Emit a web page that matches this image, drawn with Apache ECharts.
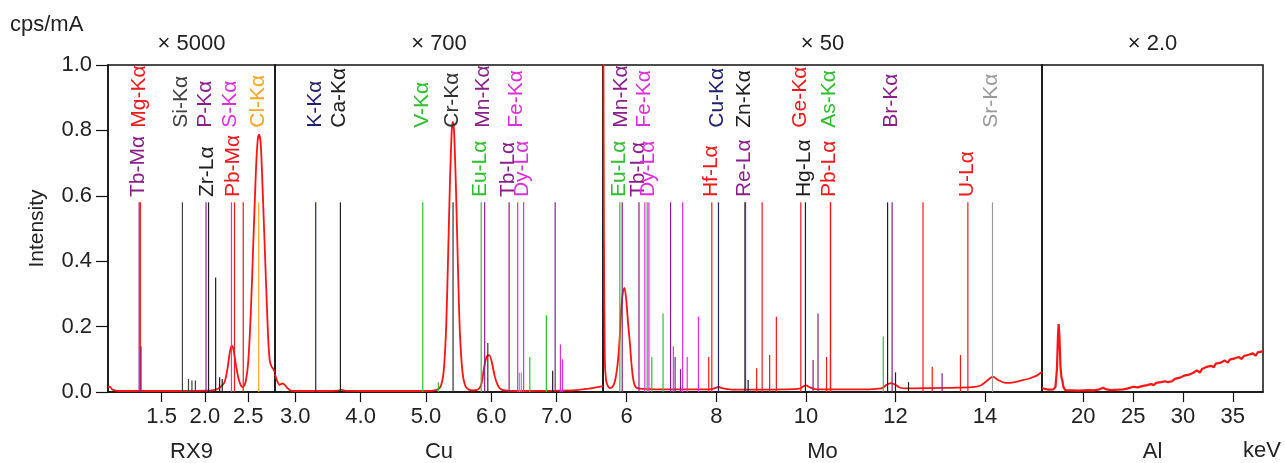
<!DOCTYPE html>
<html>
<head>
<meta charset="utf-8">
<style>
  html, body { margin: 0; padding: 0; background: #fff; }
  #chart { width: 1285px; height: 463px; }
</style>
<script src="https://cdn.jsdelivr.net/npm/echarts@6/dist/echarts.min.js"></script>
</head>
<body>
<div id="chart"></div>
<script>
// panels: target name, scale factor, energy range (keV)
const panelNames = ["RX9", "Cu", "Mo", "Al"];
const panelFactors = ["× 5000", "× 700", "× 50", "× 2.0"];
const panelRanges = [[0.88, 2.81], [2.69, 7.71], [5.47, 15.27], [15.85, 38.03]];

const yTicks = [0, 0.2, 0.4, 0.6, 0.8, 1.0];
const tickRX9 = [1.5, 2.0, 2.5];
const tickCu = [3.0, 4.0, 5.0, 6.0, 7.0];
const tickMo = [6, 8, 10, 12, 14];
const tickAl = [20, 25, 30, 35];

// spectra [keV, intensity]
const specRX9 = [
  [0.88, 0.014], [0.9, 0.016], [0.93, 0.008], [0.97, 0.004], [1.0, 0.003], [1.2, 0.003], [1.5, 0.003],
  [1.8, 0.003], [2.0, 0.004], [2.1, 0.006], [2.15, 0.01], [2.2, 0.02], [2.23, 0.032], [2.26, 0.07],
  [2.29, 0.125], [2.31, 0.142], [2.33, 0.13], [2.36, 0.08], [2.39, 0.04], [2.42, 0.018], [2.44, 0.015],
  [2.47, 0.03], [2.5, 0.09], [2.53, 0.24], [2.56, 0.46], [2.59, 0.68], [2.61, 0.77], [2.626, 0.787],
  [2.645, 0.76], [2.67, 0.6], [2.7, 0.38], [2.73, 0.17], [2.75, 0.095], [2.77, 0.078], [2.79, 0.07],
  [2.81, 0.06]
];
const specCu = [
  [2.69, 0.055], [2.72, 0.035], [2.76, 0.022], [2.8, 0.026], [2.84, 0.022], [2.88, 0.012], [2.92, 0.005],
  [3.0, 0.003], [3.5, 0.003], [3.65, 0.004], [3.7, 0.007], [3.75, 0.004], [4.0, 0.003], [4.5, 0.003],
  [5.0, 0.003], [5.15, 0.006], [5.22, 0.015], [5.27, 0.06], [5.31, 0.2], [5.34, 0.42], [5.37, 0.66],
  [5.395, 0.8], [5.41, 0.826], [5.43, 0.8], [5.46, 0.62], [5.49, 0.38], [5.52, 0.18], [5.56, 0.06],
  [5.6, 0.02], [5.65, 0.008], [5.72, 0.005], [5.8, 0.008], [5.85, 0.025], [5.89, 0.075], [5.93, 0.108],
  [5.97, 0.113], [6.01, 0.09], [6.05, 0.05], [6.1, 0.02], [6.15, 0.008], [6.25, 0.004], [6.5, 0.003],
  [7.0, 0.004], [7.3, 0.006], [7.5, 0.01], [7.6, 0.014], [7.71, 0.018]
];
const specMo = [
  [5.47, 1.6], [5.49, 0.5], [5.51, 0.1], [5.54, 0.035], [5.58, 0.018], [5.62, 0.012], [5.68, 0.015],
  [5.74, 0.035], [5.8, 0.09], [5.84, 0.16], [5.88, 0.26], [5.92, 0.31], [5.95, 0.318], [5.99, 0.28],
  [6.03, 0.21], [6.07, 0.15], [6.11, 0.08], [6.15, 0.035], [6.2, 0.015], [6.3, 0.01], [6.5, 0.009],
  [7.0, 0.008], [7.5, 0.008], [7.9, 0.009], [8.0, 0.013], [8.05, 0.016], [8.12, 0.012], [8.3, 0.008],
  [8.6, 0.007], [9.0, 0.007], [9.5, 0.008], [9.85, 0.01], [9.95, 0.018], [10.0, 0.02], [10.08, 0.015],
  [10.2, 0.009], [10.6, 0.008], [11.0, 0.008], [11.5, 0.009], [11.7, 0.012], [11.8, 0.022], [11.9, 0.027],
  [12.0, 0.022], [12.1, 0.013], [12.3, 0.011], [12.8, 0.012], [13.3, 0.013], [13.7, 0.015], [13.9, 0.02],
  [14.05, 0.035], [14.17, 0.047], [14.3, 0.036], [14.45, 0.028], [14.6, 0.029], [14.8, 0.035],
  [15.0, 0.042], [15.15, 0.05], [15.27, 0.062]
];
const specAl = [
  [15.85, 0.012], [16.0, 0.008], [16.5, 0.007], [17.0, 0.008], [17.2, 0.015], [17.35, 0.07], [17.45, 0.17],
  [17.52, 0.208], [17.6, 0.17], [17.7, 0.08], [17.8, 0.045], [17.9, 0.035], [18.0, 0.015], [18.2, 0.006],
  [18.5, 0.005], [19.0, 0.005], [19.5, 0.004], [20.0, 0.005], [20.5, 0.006], [21.0, 0.005], [21.5, 0.007],
  [22.0, 0.013], [22.3, 0.008], [22.8, 0.006], [23.5, 0.007], [24.0, 0.008], [24.5, 0.011],
  [25.0, 0.016], [25.2, 0.011], [25.45, 0.014], [25.6, 0.012], [25.9, 0.018], [26.1, 0.015],
  [26.4, 0.021], [26.6, 0.017], [26.8, 0.024], [27.1, 0.021], [27.3, 0.028], [27.5, 0.024],
  [27.8, 0.03], [28.0, 0.027], [28.2, 0.033], [28.5, 0.03], [28.7, 0.036], [28.9, 0.033],
  [29.2, 0.04], [29.4, 0.036], [29.7, 0.044], [29.9, 0.041], [30.1, 0.05], [30.3, 0.044],
  [30.6, 0.053], [30.8, 0.048], [31.0, 0.058], [31.2, 0.053], [31.4, 0.066], [31.7, 0.059],
  [31.9, 0.07], [32.1, 0.066], [32.4, 0.077], [32.6, 0.071], [32.8, 0.08], [33.1, 0.076],
  [33.3, 0.087], [33.5, 0.081], [33.8, 0.09], [34.0, 0.087], [34.2, 0.096], [34.5, 0.09],
  [34.7, 0.099], [34.9, 0.095], [35.2, 0.103], [35.4, 0.097], [35.6, 0.107], [35.9, 0.101],
  [36.1, 0.11], [36.3, 0.105], [36.6, 0.114], [36.8, 0.108], [37.0, 0.118], [37.3, 0.111],
  [37.5, 0.121], [37.7, 0.115], [38.0, 0.124]
];

// element line markers [element, keV, relative height]
const linesRX9 = [
  ["Tb", 1.240, 0.58], ["Mg", 1.254, 0.58], ["Tb", 1.262, 0.14],
  ["Si", 1.740, 0.58], ["Si", 1.81, 0.04], ["Si", 1.85, 0.035], ["Si", 1.89, 0.035],
  ["P", 2.013, 0.58], ["Zr", 2.042, 0.58], ["Zr", 2.124, 0.35], ["Zr", 2.17, 0.045], ["Zr", 2.2, 0.04],
  ["S", 2.307, 0.58], ["Pb", 2.342, 0.58], ["Pb", 2.443, 0.58], ["Cl", 2.622, 0.58]
];
const linesCu = [
  ["K", 3.313, 0.58], ["Ca", 3.691, 0.58], ["V", 4.952, 0.58], ["V", 5.19, 0.03],
  ["Cr", 5.415, 0.58], ["Eu", 5.846, 0.58], ["Mn", 5.899, 0.58], ["Cr", 5.947, 0.15],
  ["Tb", 6.273, 0.58], ["Fe", 6.404, 0.58], ["Sr", 6.43, 0.06], ["Sr", 6.46, 0.06], ["Dy", 6.495, 0.58],
  ["Eu", 6.59, 0.107], ["Eu", 6.843, 0.235], ["Hg", 6.94, 0.065], ["Tb", 6.978, 0.58],
  ["Fe", 7.058, 0.145], ["Fe", 7.09, 0.1]
];
const linesMo = [
  ["Eu", 5.846, 0.58], ["Mn", 5.899, 0.58], ["Tb", 6.273, 0.58], ["Fe", 6.404, 0.58], ["Eu", 6.457, 0.58],
  ["Dy", 6.495, 0.58], ["Eu", 6.56, 0.107], ["Eu", 6.81, 0.24], ["Tb", 6.978, 0.58], ["Fe", 7.04, 0.14],
  ["Tb", 7.08, 0.107], ["Re", 7.2, 0.07], ["Dy", 7.248, 0.58], ["Dy", 7.35, 0.107], ["Dy", 7.6, 0.23],
  ["Hf", 7.83, 0.107], ["Hf", 7.899, 0.58], ["Cu", 8.048, 0.58], ["Zn", 8.639, 0.58], ["Re", 8.652, 0.58],
  ["Zn", 8.71, 0.037], ["Hf", 8.9, 0.073], ["Hf", 9.023, 0.58], ["Hf", 9.19, 0.113], ["Hf", 9.34, 0.23],
  ["Ge", 9.886, 0.58], ["Hg", 9.989, 0.58], ["Re", 10.16, 0.098], ["Re", 10.27, 0.24], ["Ge", 10.46, 0.107],
  ["As", 10.544, 0.58], ["Pb", 10.551, 0.58], ["As", 11.726, 0.17], ["Hg", 11.823, 0.58],
  ["Br", 11.924, 0.58], ["Hg", 12.0, 0.06], ["Hg", 12.29, 0.03], ["Pb", 12.614, 0.58],
  ["Pb", 12.82, 0.077], ["Br", 13.04, 0.057], ["U", 13.45, 0.113], ["U", 13.615, 0.58], ["Sr", 14.165, 0.58]
];
const linesAl = [];

// line labels [text, keV]
const labelsRX9 = [
  ["Tb-Mα", 1.240], ["Mg-Kα", 1.254], ["Si-Kα", 1.740], ["Zr-Lα", 2.042], ["P-Kα", 2.013],
  ["Pb-Mα", 2.342], ["S-Kα", 2.307], ["Cl-Kα", 2.622]
];
const labelsCu = [
  ["K-Kα", 3.313], ["Ca-Kα", 3.691], ["V-Kα", 4.952], ["Cr-Kα", 5.415], ["Mn-Kα", 5.899],
  ["Eu-Lα", 5.846], ["Tb-Lα", 6.273], ["Dy-Lα", 6.495], ["Fe-Kα", 6.404]
];
const labelsMo = [
  ["Mn-Kα", 5.899], ["Fe-Kα", 6.404], ["Eu-Lα", 5.846], ["Tb-Lα", 6.273], ["Dy-Lα", 6.495],
  ["Hf-Lα", 7.899], ["Cu-Kα", 8.048], ["Re-Lα", 8.652], ["Zn-Kα", 8.639], ["Hg-Lα", 9.989],
  ["Ge-Kα", 9.886], ["Pb-Lα", 10.551], ["As-Kα", 10.544], ["Br-Kα", 11.924], ["U-Lα", 13.615],
  ["Sr-Kα", 14.165]
];
const labelsAl = [];

const RED = "#f01a1a";
const PURPLE = "#8a1f8a";
const MAGENTA = "#dc2fdc";
const GREEN = "#2fbf2f";
const NAVY = "#22226e";
const DARK = "#1e1e1e";
const elementColors = {
  Mg: RED, Pb: RED, Hf: RED, Ge: RED, U: RED,
  Tb: PURPLE, P: PURPLE, Mn: PURPLE, Re: PURPLE, Br: PURPLE,
  S: MAGENTA, Fe: MAGENTA, Dy: MAGENTA,
  V: GREEN, Eu: GREEN, As: GREEN,
  K: NAVY, Cu: NAVY,
  Zr: DARK, Ca: DARK, Zn: DARK, Hg: DARK,
  Cr: "#333333", Si: "#404040", Sr: "#9a9a9a", Cl: "#ffa51f"
};

const FONT = "'Liberation Sans', Arial, sans-serif";
const TEXT = "#222";
const gridBoxes = [[108, 167], [275, 328], [603, 439], [1042, 221]];
const spectra = [specRX9, specCu, specMo, specAl];
const ticks = [tickRX9, tickCu, tickMo, tickAl];
const markerLines = [linesRX9, linesCu, linesMo, linesAl];
const markerLabels = [labelsRX9, labelsCu, labelsMo, labelsAl];

function lineRenderer(list) {
  return function (params, api) {
    const item = list[params.dataIndex];
    const base = api.coord([item[1], 0]);
    const top = api.coord([item[1], item[2]]);
    return {
      type: "line",
      shape: { x1: base[0], y1: base[1], x2: top[0], y2: top[1] },
      style: { stroke: elementColors[item[0]], lineWidth: 1.2 }
    };
  };
}

function labelRenderer(list) {
  return function (params, api) {
    const item = list[params.dataIndex];
    const upper = item[0].indexOf("-K") > 0;
    const p = api.coord([item[1], upper ? 0.808 : 0.596]);
    return {
      type: "text",
      x: p[0] - 1,
      y: p[1],
      rotation: Math.PI / 2,
      style: {
        text: item[0],
        fill: elementColors[item[0].split("-")[0]],
        font: "21px " + FONT,
        align: "left",
        verticalAlign: "middle"
      }
    };
  };
}

const chart = echarts.init(document.getElementById("chart"));

const grids = gridBoxes.map(([left, width]) => ({
  left, width, top: 65, height: 327,
  show: true, borderColor: "#111", borderWidth: 1.5,
  containLabel: false, outerBoundsMode: "none"
}));

const xBottom = panelRanges.map((range, i) => ({
  type: "value", gridIndex: i, position: "bottom",
  min: range[0], max: range[1],
  name: panelNames[i], nameLocation: "middle", nameGap: 49,
  nameTextStyle: { fontFamily: FONT, fontSize: 22, color: TEXT },
  axisLine: { show: true, lineStyle: { color: "#111", width: 1.5 } },
  axisTick: { show: true, length: 10, customValues: ticks[i], lineStyle: { color: "#111", width: 1.2 } },
  axisLabel: {
    customValues: ticks[i], margin: 14, color: TEXT, fontFamily: FONT, fontSize: 22,
    formatter: (v) => (i < 2 ? Number(v).toFixed(1) : String(v))
  },
  splitLine: { show: false }
}));

const xTop = panelFactors.map((factor, i) => ({
  type: "value", gridIndex: i, position: "top", min: 0, max: 1,
  name: factor, nameLocation: "middle", nameGap: 10,
  nameTextStyle: { fontFamily: FONT, fontSize: 22, color: TEXT },
  axisLine: { show: false }, axisTick: { show: false }, axisLabel: { show: false },
  splitLine: { show: false }
}));

const yAxes = gridBoxes.map((box, i) => ({
  type: "value", gridIndex: i, min: 0, max: 1, interval: 0.2,
  show: i === 0,
  name: i === 0 ? "Intensity" : "",
  nameLocation: "middle", nameGap: 60, nameRotate: 90,
  nameTextStyle: { fontFamily: FONT, fontSize: 21, color: TEXT },
  axisLine: { show: true, lineStyle: { color: "#111", width: 1.5 } },
  axisTick: { show: true, length: 12, customValues: yTicks, lineStyle: { color: "#111", width: 1.2 } },
  axisLabel: {
    customValues: yTicks, margin: 16, color: TEXT, fontFamily: FONT, fontSize: 22,
    formatter: (v) => Number(v).toFixed(1)
  },
  splitLine: { show: false }
}));

const series = [];
spectra.forEach((spec, i) => {
  series.push({
    type: "line", xAxisIndex: i, yAxisIndex: i, data: spec,
    showSymbol: false, smooth: i === 3 ? false : 0.25, z: 2,
    lineStyle: { color: "#ff1414", width: i === 3 ? 2.2 : 1.8 }
  });
  series.push({
    type: "custom", xAxisIndex: i, yAxisIndex: i, z: 3,
    renderItem: lineRenderer(markerLines[i]),
    data: markerLines[i].map((d) => [d[1], d[2]]),
    encode: { x: 0, y: 1 }
  });
  series.push({
    type: "custom", xAxisIndex: i, yAxisIndex: i, z: 4,
    renderItem: labelRenderer(markerLabels[i]),
    data: markerLabels[i].map((d) => [d[1], 0]),
    encode: { x: 0, y: 1 }
  });
});

chart.setOption({
  animation: false,
  backgroundColor: "#fff",
  grid: grids,
  xAxis: xBottom.concat(xTop),
  yAxis: yAxes,
  graphic: [
    { type: "text", left: 10, top: 14, style: { text: "cps/mA", font: "22px " + FONT, fill: TEXT } },
    { type: "text", right: 4, top: 440, style: { text: "keV", font: "22px " + FONT, fill: TEXT } }
  ],
  series: series
});
</script>
</body>
</html>
